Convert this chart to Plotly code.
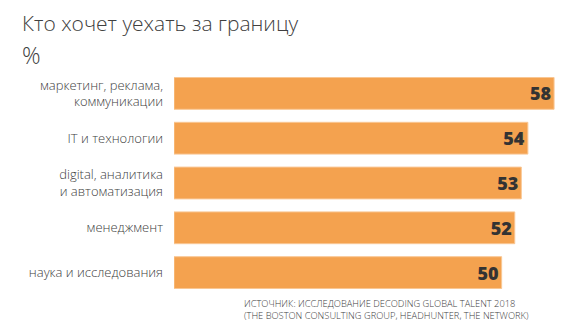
import plotly.graph_objects as go

categories = [
    "маркетинг, реклама,<br>коммуникации",
    "IT и технологии",
    "digital, аналитика<br>и автоматизация",
    "менеджмент",
    "наука и исследования",
]
values = [58, 54, 53, 52, 50]
title_text = "Кто хочет уехать за границу"
unit_text = "%"
source_text = "ИСТОЧНИК: ИССЛЕДОВАНИЕ DECODING GLOBAL TALENT 2018<br>(THE BOSTON CONSULTING GROUP, HEADHUNTER, THE NETWORK)"

W, H = 570, 331
ml, mr, mt, mb = 174, 12, 70.5, 35.5
pw, ph = W - ml - mr, H - mt - mb

fig = go.Figure(go.Bar(
    x=values,
    y=categories,
    orientation="h",
    marker=dict(color="#F4A24F", line=dict(color="#F9C794", width=1)),
    text=[str(v) for v in values],
    textposition="inside",
    insidetextanchor="end",
    textfont=dict(family="Open Sans", size=18, color="#333333", weight=800),
    cliponaxis=False,
))

fig.update_layout(
    width=W, height=H,
    margin=dict(l=ml, r=mr, t=mt, b=mb),
    paper_bgcolor="white", plot_bgcolor="white",
    bargap=0.29,
    showlegend=False,
    xaxis=dict(range=[0, 58.6], visible=False),
    yaxis=dict(autorange="reversed", showgrid=False, zeroline=False, showline=False,
               ticks="", ticklabelstandoff=10,
               tickfont=dict(family="Open Sans", size=13, color="#404040", weight=300)),
    font=dict(family="Open Sans"),
    annotations=[
        dict(text=title_text, xref="paper", yref="paper",
             x=-(ml - 20) / pw, y=1 + (mt - 6) / ph,
             xanchor="left", yanchor="top", showarrow=False,
             font=dict(family="Open Sans", size=21, color="#404040", weight=300)),
        dict(text=unit_text, xref="paper", yref="paper",
             x=-(ml - 20) / pw, y=1 + (mt - 36) / ph,
             xanchor="left", yanchor="top", showarrow=False,
             font=dict(family="Open Sans", size=23, color="#404040", weight=300)),
        dict(text=source_text, xref="paper", yref="paper",
             x=(242 - ml) / pw, y=-(295 - (H - mb)) / ph,
             xanchor="left", yanchor="top", align="left", showarrow=False,
             font=dict(family="Open Sans", size=9.3, color="#404040", weight=300)),
    ],
)

fig.write_html("out.html")
